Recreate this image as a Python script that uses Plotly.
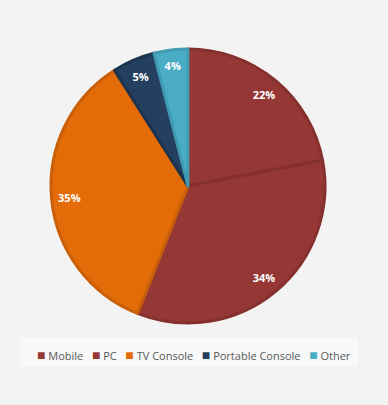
import plotly.graph_objects as go

categories = ["Mobile", "PC", "TV Console", "Portable Console", "Other"]
shares = [22, 34, 35, 5, 4]
colors = ["#953735", "#953735", "#E36C09", "#243F60", "#4BACC6"]
edge_colors = ["#86302E", "#86302E", "#C95F08", "#1C3350", "#3F9AB2"]

W, H = 388, 405
cx, cy, R = 188, 186, 137
dom_x = [(cx - R) / W, (cx + R) / W]
dom_y = [(H - cy - R) / H, (H - cy + R) / H]

fig = go.Figure()
fig.add_trace(go.Pie(
    labels=categories, values=shares, sort=False, direction="clockwise", rotation=0,
    marker=dict(colors=colors, line=dict(color=edge_colors, width=3)),
    textinfo="none", hoverinfo="label+percent", domain=dict(x=dom_x, y=dom_y),
    showlegend=False,
))
# transparent label ring so the percentages sit near the outer edge
fig.add_trace(go.Pie(
    labels=categories, values=shares, sort=False, direction="clockwise", rotation=0,
    hole=0.74, marker=dict(colors=["rgba(0,0,0,0)"] * len(shares), line=dict(width=0)),
    textinfo="percent", textposition="inside", insidetextorientation="horizontal",
    textfont=dict(family="Open Sans", size=11, color="white", weight="bold"),
    hoverinfo="skip", domain=dict(x=dom_x, y=dom_y), showlegend=False,
))

# legend (compact, single row) built from the category list
legend_items = [
    f"<span style='color:{c};font-size:14px'>■</span>&nbsp;{name}"
    for name, c in zip(categories, colors)
]
legend_text = "&nbsp;&nbsp;&nbsp;".join(legend_items)
fig.add_annotation(
    text=legend_text, xref="paper", yref="paper", x=194 / W, y=(H - 354) / H,
    xanchor="center", yanchor="middle", showarrow=False,
    font=dict(family="Open Sans", size=11, color="#595959"),
)
fig.add_shape(type="rect", xref="paper", yref="paper",
              x0=20 / W, x1=358 / W, y0=(H - 366) / H, y1=(H - 338) / H,
              fillcolor="#F8F8F8", line=dict(width=0), layer="below")

fig.update_layout(
    width=W, height=H,
    margin=dict(l=0, r=0, t=0, b=0),
    paper_bgcolor="#F3F3F3",
    plot_bgcolor="#F3F3F3",
    uniformtext=dict(minsize=11, mode="show"),
)
fig.write_html("out.html", config={"displayModeBar": False},
               post_script="document.body.style.margin='0';")
